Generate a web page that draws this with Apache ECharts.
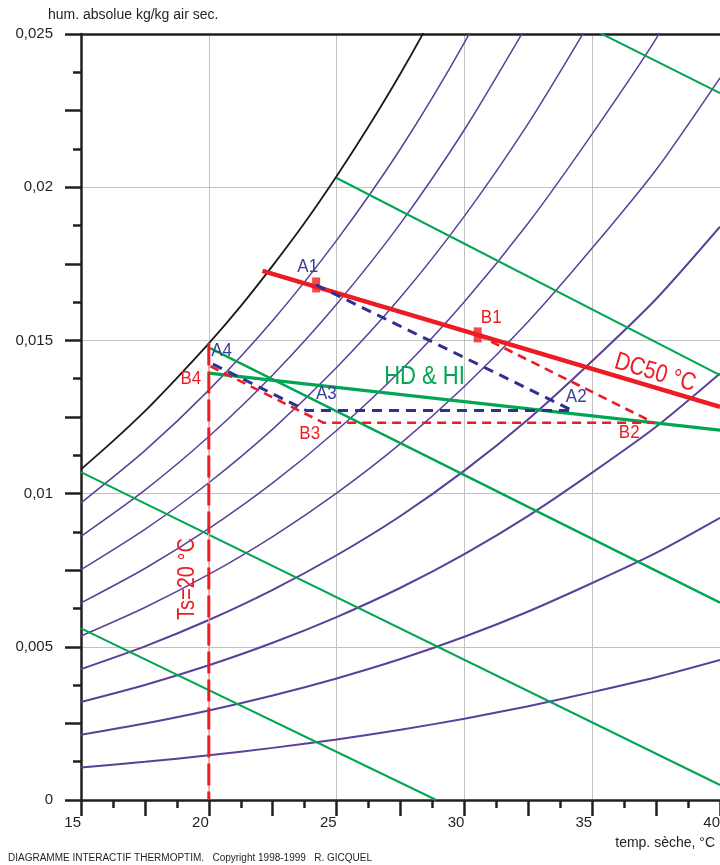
<!DOCTYPE html>
<html><head><meta charset="utf-8">
<script src="https://cdn.jsdelivr.net/npm/echarts@6/dist/echarts.min.js"></script>
<style>html,body{margin:0;padding:0;background:#fff;}#c{width:720px;height:865px;}</style>
</head><body><div id="c"></div>
<script>
// ---- tick labels ----
const xTickLabels = ['15','20','25','30','35','40'];
const yTickLabels = ['0','0,005','0,01','0,015','0,02','0,025'];

// ---- saturation curve (black) ----
const satT = [15, 16.25, 17.5, 18.75, 20, 21.25, 22.5, 23.75, 25, 26.25, 27.5, 28.75, 30];
const satW = [0.01079, 0.01171, 0.01269, 0.01377, 0.0149, 0.01612, 0.01744, 0.01884, 0.02036, 0.02198, 0.02371, 0.02558, 0.02759];

// ---- relative humidity curves (purple) ----
const tempGrid = [15, 17.5, 20, 22.5, 25, 27.5, 30, 32.5, 35, 37.5, 40];
const rh10 = [0.001063, 0.001247, 0.001458, 0.001701, 0.001978, 0.002292, 0.002653, 0.003062, 0.003521, 0.004007, 0.00457];
const rh20 = [0.002129, 0.002498, 0.002923, 0.003411, 0.003968, 0.004601, 0.005328, 0.006153, 0.007082, 0.008065, 0.00921];
const rh30 = [0.003199, 0.003754, 0.004396, 0.005131, 0.005971, 0.006927, 0.008027, 0.009275, 0.010684, 0.01218, 0.01392];
const rh40 = [0.004273, 0.005016, 0.005875, 0.00686, 0.007988, 0.00927, 0.010749, 0.012429, 0.014328, 0.01635, 0.01871];
const rh50 = [0.005351, 0.006283, 0.007361, 0.008599, 0.010017, 0.011632, 0.013494, 0.015615, 0.018013, 0.02057, 0.02357];
const rh60 = [0.006431, 0.007555, 0.008854, 0.010347, 0.012059, 0.01401, 0.016263, 0.018831, 0.021742, 0.02485, 0.0285];
const rh70 = [0.007516, 0.008832, 0.010354, 0.012105, 0.014114, 0.016406, 0.019057, 0.022081, 0.025514];
const rh80 = [0.008605, 0.010114, 0.011862, 0.013874, 0.016183, 0.018821, 0.021875, 0.025365];
const rh90 = [0.009697, 0.011401, 0.013377, 0.015651, 0.018265, 0.021254, 0.024718, 0.028681];

// ---- wet-bulb lines (green) ----
const wetBulb10 = [[15, 0.0056], [28.9, 0]];
const wetBulb15 = [[15, 0.0107], [40, 0.00049]];
const wetBulb20 = [[20.05, 0.01475], [40, 0.00644]];
const wetBulb25 = [[25, 0.0203], [40, 0.01387]];
const wetBulb30 = [[30, 0.02725], [40, 0.02307]];
const hdHiLine = [[20, 0.01393], [40, 0.01207]];

// ---- process lines ----
const dc50Line = [[22.1, 0.01727], [40, 0.01283]];
const ts20Line = [[20, 0.0149], [20, 0]];
const pathA = [[24.2, 0.01681], [34.23, 0.01271], [23.82, 0.01271], [19.96, 0.01431]];
const pathB = [[30.52, 0.01518], [37.42, 0.01231], [24.49, 0.01231], [19.96, 0.0142]];
const markerPts = [[24.2, 0.01681], [30.52, 0.01518]];

const FONT = "'Liberation Sans', Arial, Helvetica, sans-serif";
const INK = '#231f20', PURPLE = '#5b3f9b', GREEN = '#00a651', RED = '#ed1c24', BLUE = '#2e3192', BLUE_TXT = '#3b3f99';

// annotation anchors (data coordinates)
const annotations = [
  {text: 'A1', t: 23.87, w: 0.0174, color: BLUE_TXT, size: 17, sy: 1.12},
  {text: 'A2', t: 34.375, w: 0.01315, color: BLUE_TXT, size: 17, sy: 1.12},
  {text: 'A3', t: 24.6, w: 0.01325, color: BLUE_TXT, size: 17, sy: 1.12},
  {text: 'A4', t: 20.5, w: 0.01465, color: BLUE_TXT, size: 17, sy: 1.12},
  {text: 'B1', t: 31.05, w: 0.01573, color: RED, size: 17, sy: 1.12},
  {text: 'B2', t: 36.45, w: 0.01198, color: RED, size: 17, sy: 1.12},
  {text: 'B3', t: 23.95, w: 0.01195, color: RED, size: 17, sy: 1.12},
  {text: 'B4', t: 19.3, w: 0.01374, color: RED, size: 17, sy: 1.12},
  {text: 'HD & HI', t: 28.44, w: 0.0138, color: GREEN, size: 22, sy: 1.2},
  {text: 'DC50 °C', t: 37.46, w: 0.01394, color: RED, size: 21, sy: 1.2, rot: -0.288},
  {text: 'Ts=20 °C', t: 19.16, w: 0.00721, color: RED, size: 20, sy: 1.2, rot: Math.PI / 2}
];

const zip = (ts, ws) => ws.map((w, i) => [ts[i], w]);
function line(data, color, width, extra) {
  return Object.assign({
    type: 'line', data: data, showSymbol: false, symbol: 'none', silent: true,
    animation: false, clip: true, xAxisIndex: 0, yAxisIndex: 0,
    lineStyle: {color: color, width: width}
  }, extra || {});
}
const smoothOpt = {smooth: 0.25};

const series = [];
[rh10, rh20, rh30, rh40].forEach(a => series.push(line(zip(tempGrid, a), PURPLE, 2, smoothOpt)));
[rh50, rh60, rh70, rh80, rh90].forEach(a => series.push(line(zip(tempGrid, a), PURPLE, 1.5, smoothOpt)));
[wetBulb10, wetBulb15, wetBulb25, wetBulb30].forEach(a => series.push(line(a, GREEN, 2)));
series.push(line(wetBulb20, GREEN, 2.4));
series.push(line(hdHiLine, GREEN, 3.2));
series.push(line(zip(satT, satW), '#1a1a1a', 1.8, smoothOpt));
series.push(line(ts20Line, '#f4a3a6', 1.3));
series.push(line(ts20Line, RED, 3, {lineStyle: {color: RED, width: 3, type: [22, 6]}}));
series.push(line(dc50Line, RED, 4.5));
series.push(line(pathB, RED, 2.6, {lineStyle: {color: RED, width: 2.6, type: [9, 6]}}));
series.push(line(pathA, BLUE, 3, {lineStyle: {color: BLUE, width: 3, type: [10, 7]}}));
series.push({type: 'scatter', data: markerPts, symbol: 'rect', symbolSize: [8, 15], silent: true,
  animation: false, itemStyle: {color: RED}, xAxisIndex: 0, yAxisIndex: 0});

const axisLineStyle = {color: INK, width: 2.5};
const option = {
  animation: false,
  backgroundColor: '#fff',
  grid: {left: 81, right: 0, top: 34, bottom: 65, containLabel: false, outerBoundsMode: 'none'},
  xAxis: [
    {type: 'value', min: 15, max: 40, interval: 2.5, position: 'bottom',
     axisLine: {show: true, onZero: false, lineStyle: axisLineStyle},
     axisTick: {show: true, length: 16, lineStyle: axisLineStyle},
     minorTick: {show: true, splitNumber: 2, length: 8, lineStyle: axisLineStyle},
     axisLabel: {show: true, showMinLabel: true, showMaxLabel: true, hideOverlap: false, align: 'right', margin: 15,
       fontSize: 15, fontFamily: FONT, color: INK,
       formatter: v => { const m = Math.round((v - 15) / 2.5); return m % 2 === 0 ? xTickLabels[m / 2] : ''; }},
     splitLine: {show: false}, minorSplitLine: {show: false}},
    {type: 'value', min: 15, max: 40, interval: 5, position: 'top',
     axisLine: {show: true, onZero: false, lineStyle: axisLineStyle},
     axisTick: {show: false}, axisLabel: {show: false},
     splitLine: {show: true, lineStyle: {color: '#c2c2c2', width: 1}}}
  ],
  yAxis: [
    {type: 'value', min: 0, max: 0.025, interval: 0.0025, position: 'left',
     axisLine: {show: true, onZero: false, lineStyle: axisLineStyle},
     axisTick: {show: true, length: 16, lineStyle: axisLineStyle},
     minorTick: {show: true, splitNumber: 2, length: 8, lineStyle: axisLineStyle},
     axisLabel: {show: true, showMinLabel: true, showMaxLabel: true, hideOverlap: false, margin: 28,
       fontSize: 15, fontFamily: FONT, color: INK,
       formatter: v => { const m = Math.round(v / 0.0025); return m % 2 === 0 ? yTickLabels[m / 2] : ''; }},
     splitLine: {show: false}},
    {type: 'value', min: 0, max: 0.025, interval: 0.005, position: 'right',
     axisLine: {show: false}, axisTick: {show: false}, axisLabel: {show: false},
     splitLine: {show: true, lineStyle: {color: '#c2c2c2', width: 1}}}
  ],
  series: series
};

const chart = echarts.init(document.getElementById('c'), null, {renderer: 'canvas'});
chart.setOption(option);

const graphics = [
  {type: 'text', x: 48, y: 15, style: {text: 'hum. absolue kg/kg air sec.', fill: INK, fontSize: 14, fontFamily: FONT, verticalAlign: 'middle', align: 'left'}},
  {type: 'text', x: 715, y: 843, style: {text: 'temp. sèche, °C', fill: INK, fontSize: 14, fontFamily: FONT, verticalAlign: 'middle', align: 'right'}},
  {type: 'text', x: 8, y: 858, style: {text: 'DIAGRAMME INTERACTIF THERMOPTIM.   Copyright 1998-1999   R. GICQUEL', fill: INK, fontSize: 10, fontFamily: FONT, verticalAlign: 'middle', align: 'left'}}
];
annotations.forEach(a => {
  const p = chart.convertToPixel({seriesIndex: 0}, [a.t, a.w]);
  graphics.push({type: 'text', x: p[0], y: p[1], rotation: a.rot || 0, scaleY: a.sy || 1, z: 100,
    style: {text: a.text, fill: a.color, fontSize: a.size, fontFamily: FONT, align: 'center', verticalAlign: 'middle'}});
});
chart.setOption({graphic: graphics});
</script></body></html>
